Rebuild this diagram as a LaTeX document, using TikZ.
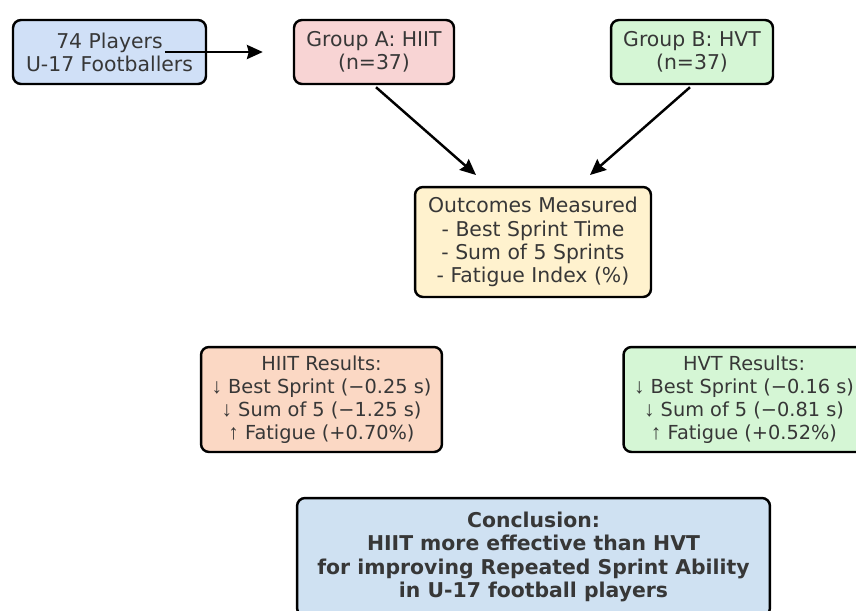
\documentclass[tikz,border=0pt]{standalone}
\usepackage{fontspec}
\setmainfont{DejaVu Sans}
\newfontfamily\arrowfont{Liberation Sans}
\newcommand{\dnarrow}{{\arrowfont\large ↓}}
\newcommand{\uparr}{{\arrowfont\large ↑}}
\usetikzlibrary{arrows.meta}
\definecolor{inkgray}{RGB}{55,55,55}
\definecolor{playersblue}{RGB}{208,224,247}
\definecolor{hiitpink}{RGB}{248,212,212}
\definecolor{hvtgreen}{RGB}{213,246,213}
\definecolor{outcomesyellow}{RGB}{255,242,206}
\definecolor{hiitpeach}{RGB}{251,216,196}
\definecolor{conclblue}{RGB}{207,225,242}
\tikzset{x=0.02cm, y=-0.02cm,
    box/.style={
        draw=black,
        line width=1.4pt,
        rounded corners=0.16cm,
        align=center,
        text=inkgray,
        inner sep=0pt,
        font=\fontsize{11.6}{13.2}\selectfont},
    resultbox/.style={
        box,
        minimum width=4.82cm,
        minimum height=2.1cm,
        font=\fontsize{11}{13.2}\selectfont},
    flow/.style={
        draw,
        line width=1.4pt,
        -{Stealth[length=9pt,width=8pt,inset=1pt]}}}

\begin{document}
\begin{tikzpicture}
        \useasboundingbox (0,0) rectangle (856,610);
        \node[box, fill=playersblue, minimum width=3.86cm, minimum height=1.28cm] (players) at (109.5,52) {74 Players\\U-17 Footballers};
        \node[box, fill=hiitpink, minimum width=3.2cm, minimum height=1.28cm] (groupA) at (374,52) {Group A: HIIT\\(n=37)};
        \node[box, fill=hvtgreen, minimum width=3.24cm, minimum height=1.28cm] (groupB) at (692,52) {Group B: HVT\\(n=37)};
        \node[box, fill=outcomesyellow, minimum width=4.72cm, minimum height=2.2cm] (outcomes) at (533,242) {Outcomes Measured\\- Best Sprint Time\\- Sum of 5 Sprints\\- Fatigue Index (\%)};
        \node[resultbox, fill=hiitpeach] (hiitres) at (321.5,399.5) {HIIT Results:\\\dnarrow{} Best Sprint (−0.25 s)\\\dnarrow{} Sum of 5 (−1.25 s)\\\uparr{} Fatigue (+0.70\%)};
        \node[resultbox, fill=hvtgreen] (hvtres) at (744,399.5) {HVT Results:\\\dnarrow{} Best Sprint (−0.16 s)\\\dnarrow{} Sum of 5 (−0.81 s)\\\uparr{} Fatigue (+0.52\%)};
        \node[box, fill=conclblue, minimum width=9.46cm, minimum height=2.36cm, font=\fontsize{11.6}{13.2}\selectfont\bfseries] (concl) at (533.5,557) {Conclusion:\\HIIT more effective than HVT\\for improving Repeated Sprint Ability\\in U-17 football players};

        \coordinate (inA) at (476,175);
        \coordinate (inB) at (590,175);

        \draw[flow, shorten <=1.11cm, shorten >=0.6cm] (players.center) -- (groupA.west);
        \draw[flow] ([xshift=0.04cm, yshift=-0.04cm]groupA.south) -- (inA);
        \draw[flow] ([xshift=-0.04cm, yshift=-0.04cm]groupB.south) -- (inB);
    \end{tikzpicture}
\end{document}
